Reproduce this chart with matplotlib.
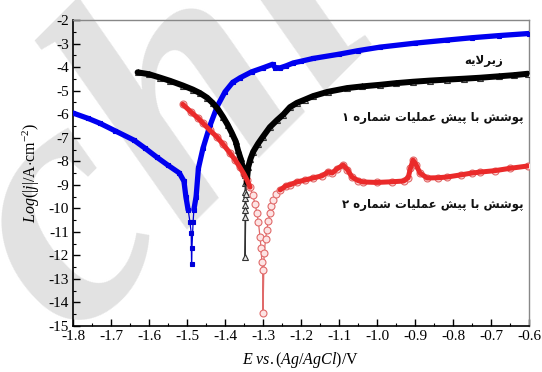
import numpy as np
import matplotlib
matplotlib.use("Agg")
import matplotlib.pyplot as plt
from matplotlib.ticker import MultipleLocator, FormatStrFormatter

# ---- data (E in V, log|j| in A/cm2) ----
sub_E = [-1.800, -1.760, -1.730, -1.690, -1.640, -1.610, -1.580, -1.550, -1.520,
         -1.508, -1.503, -1.497, -1.492, -1.489, -1.488, -1.487, -1.484, -1.482,
         -1.476, -1.470, -1.458, -1.440, -1.420, -1.400, -1.380, -1.360, -1.330,
         -1.300, -1.275, -1.268, -1.255, -1.240, -1.220, -1.200, -1.168, -1.100,
         -1.050, -0.992, -0.900, -0.816, -0.750, -0.680, -0.600]
sub_logj = [-5.95, -6.18, -6.38, -6.70, -7.10, -7.45, -7.82, -8.17, -8.50,
            -8.85, -9.50, -10.07, -10.60, -11.05, -12.37, -11.69, -10.60, -10.07,
            -9.50, -8.30, -7.45, -6.50, -5.65, -5.05, -4.65, -4.45, -4.20,
            -4.03, -3.88, -4.02, -4.03, -3.95, -3.82, -3.75, -3.63, -3.45,
            -3.30, -3.15, -2.98, -2.85, -2.75, -2.66, -2.57]

c1_E = [-1.630, -1.600, -1.570, -1.545, -1.511, -1.485, -1.466, -1.447, -1.432,
        -1.418, -1.405, -1.393, -1.382, -1.372, -1.366, -1.359, -1.353, -1.348,
        -1.347, -1.347, -1.347, -1.347, -1.347, -1.347, -1.347,
        -1.345, -1.343, -1.339, -1.333, -1.326, -1.313, -1.300, -1.282, -1.263,
        -1.247, -1.229, -1.211, -1.190, -1.168, -1.130, -1.079, -1.040, -0.992,
        -0.950, -0.905, -0.860, -0.816, -0.770, -0.729, -0.680, -0.640, -0.603]
c1_logj = [-4.22, -4.30, -4.45, -4.58, -4.78, -4.95, -5.10, -5.30, -5.53,
           -5.80, -6.12, -6.45, -6.80, -7.15, -7.52, -7.88, -8.25, -8.60,
           -8.93, -9.31, -9.56, -9.86, -10.07, -10.37, -12.07,
           -9.40, -8.90, -8.25, -7.90, -7.60, -7.25, -6.95, -6.55, -6.25,
           -6.02, -5.70, -5.52, -5.38, -5.23, -5.05, -4.89, -4.82, -4.75,
           -4.68, -4.62, -4.57, -4.53, -4.49, -4.45, -4.39, -4.34, -4.28]

c2_E = [-1.511, -1.490, -1.470, -1.458, -1.440, -1.421, -1.405, -1.387, -1.373,
        -1.361, -1.350, -1.342, -1.334, -1.327, -1.321, -1.316, -1.312, -1.308,
        -1.305, -1.303, -1.301, -1.300, -1.297, -1.293, -1.290, -1.286, -1.282,
        -1.278, -1.274, -1.265, -1.255, -1.240, -1.229, -1.211, -1.190, -1.168,
        -1.145, -1.128, -1.118, -1.105, -1.089, -1.078, -1.066, -1.050, -1.037,
        -1.000, -0.960, -0.930, -0.918, -0.912, -0.905, -0.897, -0.887, -0.868,
        -0.840, -0.816, -0.780, -0.750, -0.729, -0.690, -0.650, -0.603]
c2_logj = [-5.58, -5.90, -6.18, -6.38, -6.68, -6.97, -7.28, -7.65, -7.95,
           -8.25, -8.55, -8.80, -9.10, -9.45, -9.80, -10.20, -10.60, -11.20,
           -11.70, -12.30, -12.60, -14.45, -11.90, -11.30, -10.90, -10.55, -10.20,
           -9.90, -9.65, -9.40, -9.22, -9.05, -9.00, -8.88, -8.80, -8.71,
           -8.62, -8.45, -8.50, -8.32, -8.16, -8.35, -8.67, -8.82, -8.88,
           -8.90, -8.87, -8.84, -8.70, -8.30, -7.95, -8.15, -8.50, -8.71,
           -8.70, -8.67, -8.58, -8.50, -8.46, -8.40, -8.30, -8.20]

labels = ["زیرلایه", "پوشش با پیش عملیات شماره ۱", "پوشش با پیش عملیات شماره ۲"]
label_pos = [(-0.668, -3.70), (-0.615, -6.15), (-0.615, -9.85)]

# ---- minimal Persian shaping (matplotlib has no shaping/bidi) ----
FORMS = {
    "ا": ("\uFE8D", "\uFE8E", None, None),
    "ب": ("\uFE8F", "\uFE90", "\uFE91", "\uFE92"),
    "پ": ("\uFB56", "\uFB57", "\uFB58", "\uFB59"),
    "ت": ("\uFE95", "\uFE96", "\uFE97", "\uFE98"),
    "ر": ("\uFEAD", "\uFEAE", None, None),
    "ز": ("\uFEAF", "\uFEB0", None, None),
    "ش": ("\uFEB5", "\uFEB6", "\uFEB7", "\uFEB8"),
    "ع": ("\uFEC9", "\uFECA", "\uFECB", "\uFECC"),
    "ل": ("\uFEDD", "\uFEDE", "\uFEDF", "\uFEE0"),
    "م": ("\uFEE1", "\uFEE2", "\uFEE3", "\uFEE4"),
    "ه": ("\uFEE9", "\uFEEA", "\uFEEB", "\uFEEC"),
    "و": ("\uFEED", "\uFEEE", None, None),
    "ی": ("\uFBFC", "\uFBFD", "\uFBFE", "\uFBFF"),
    "\uFEFB": ("\uFEFB", "\uFEFC", None, None),  # lam-alef
}


def shape_word(word):
    word = word.replace("لا", "\uFEFB")
    out = []
    for i, c in enumerate(word):
        if c not in FORMS:
            out.append(c)
            continue
        f = FORMS[c]
        prev = word[i - 1] if i > 0 else None
        nxt = word[i + 1] if i + 1 < len(word) else None
        jp = prev in FORMS and FORMS[prev][2] is not None
        jn = f[2] is not None and nxt in FORMS
        out.append(f[3] if (jp and jn) else f[1] if jp else f[2] if jn else f[0])
    return "".join(reversed(out))


def visual(text):
    # right-to-left: last word leftmost
    return " ".join(shape_word(w) for w in reversed(text.split()))


plt.rcParams["font.family"] = "Liberation Serif"
plt.rcParams["axes.unicode_minus"] = False
plt.rcParams["mathtext.fontset"] = "custom"
plt.rcParams["mathtext.rm"] = "Liberation Serif"
plt.rcParams["mathtext.it"] = "Liberation Serif:italic"

fig = plt.figure(figsize=(5.42, 3.72), dpi=100)
ax = fig.add_axes([0.1347, 0.1237, 0.8413, 0.8223])
ax.patch.set_alpha(0)

# watermark
fig.text(0.29, 0.57, "Archive", fontsize=250, color="#e2e2e2", rotation=45,
         ha="center", va="center", fontweight="bold", style="italic",
         zorder=-1)


def draw(E, logj, color, marker, mfc, mec, ms, band_lw, band_min):
    E = np.array(E)
    logj = np.array(logj)
    ax.plot(E, logj, "-", color=mec, lw=0.9, zorder=2)
    ax.plot(E, logj, ls="none", marker=marker, ms=ms, mfc=mfc, mec=mec,
            mew=0.8, zorder=3)
    band = np.ma.masked_where(logj < band_min, logj)
    ax.plot(E, band, "-", color=color, lw=band_lw, solid_capstyle="round",
            zorder=4)


draw(sub_E, sub_logj, "#0000f0", "s", "#0000d8", "#0000d8", 3.2, 3.8, -10.2)
draw(c1_E, c1_logj, "#000000", "^", "#e8e8e8", "#333333", 5, 4.3, -8.9)
draw(c2_E, c2_logj, "#ea2a2a", "o", "#fde4e4", "#e06a6a", 5, 3.6, -9.3)

for txt, (x, y) in zip(labels, label_pos):
    ax.text(x, y, visual(txt), ha="right", va="center", fontsize=8.5,
            family="DejaVu Sans", fontweight="bold", color="#111111")

ax.set_xlim(-1.8, -0.6)
ax.set_ylim(-15, -2)
ax.xaxis.set_major_locator(MultipleLocator(0.1))
ax.xaxis.set_minor_locator(MultipleLocator(0.05))
ax.xaxis.set_major_formatter(FormatStrFormatter("%.1f"))
ax.yaxis.set_major_locator(MultipleLocator(1))
ax.yaxis.set_minor_locator(MultipleLocator(0.5))
ax.tick_params(which="both", direction="in", top=False, right=False,
               labelsize=11, pad=3)
ax.tick_params(which="major", length=5, width=1)
ax.tick_params(which="minor", length=2.5, width=0.8)
for s in ("left", "bottom"):
    ax.spines[s].set_linewidth(1.2)
for s in ("top", "right"):
    ax.spines[s].set_color("#888888")
    ax.spines[s].set_linewidth(1.0)

ax.set_xlabel(r"$E\ vs.(Ag/AgCl)$/V", fontsize=11.5, labelpad=5)
ax.set_ylabel(r"$Log(|j|$/A$\cdot$cm$^{-2}$)", fontsize=11.5, labelpad=5)

fig.savefig("out.png", dpi=100)
